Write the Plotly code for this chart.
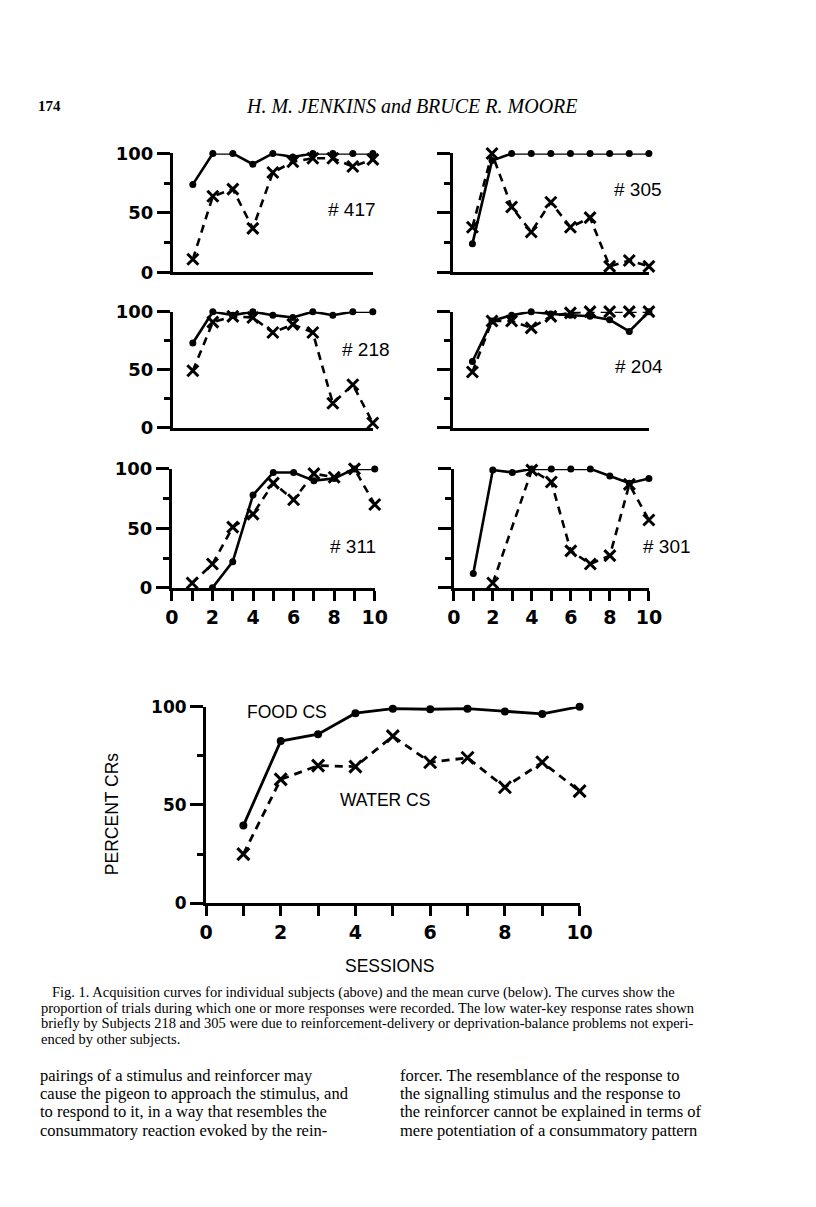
import plotly.graph_objects as go

W, H = 816, 1207

sessions = list(range(1, 11))

food_417 = [74, 100, 100, 91, 100, 97, 100, 100, 100, 100]
water_417 = [11, 64, 70, 37, 84, 93, 96, 96, 89, 95]
food_305 = [24, 94, 100, 100, 100, 100, 100, 100, 100, 100]
water_305 = [38, 100, 55, 34, 59, 38, 46, 5, 10, 5]
food_218 = [73, 100, 97, 100, 97, 95, 100, 97, 100, 100]
water_218 = [49, 91, 96, 95, 82, 89, 82, 21, 37, 4]
food_204 = [57, 92, 97, 100, 98, 97, 96, 93, 83, 100]
water_204 = [48, 92, 92, 86, 96, 99, 100, 100, 100, 100]
food_311 = [None, 0, 22, 78, 97, 97, 90, 92, 100, 100]
water_311 = [4, 20, 51, 62, 88, 74, 96, 93, 100, 70]
food_301 = [12, 99, 97, 100, 100, 100, 100, 94, 88, 92]
water_301 = [None, 4, None, 99, 89, 31, 20, 27, 87, 57]
food_mean = [39.5, 82.5, 86, 96.7, 99, 98.7, 99, 97.5, 96.3, 100]
water_mean = [25, 63, 70, 69.5, 85, 71.7, 74, 59, 71.7, 57]

x_tick_vals = list(range(0, 11))
x_tick_text = ["0", "", "2", "", "4", "", "6", "", "8", "", "10"]
y_tick_vals = [0, 50, 100]
y_tick_text = ["0", "50", "100"]

subjects = ["# 417", "# 305", "# 218", "# 204", "# 311", "# 301"]

TICKF = "DejaVu Sans, sans-serif"
SANS = "Liberation Sans, Arial, sans-serif"
SERIF = "Liberation Serif, Times New Roman, serif"


def px_x(p):
    return p / W


def px_y(p):
    return 1 - p / H


# panel layout: (food, water, x0, x1, ytop, ybottom, y labels, x labels)
panels = [
    (food_417, water_417, 170, 375, 145, 266, True, False),
    (food_305, water_305, 457, 658, 145, 266, False, False),
    (food_218, water_218, 170, 375, 306, 424, True, False),
    (food_204, water_204, 457, 658, 306, 424, False, False),
    (food_311, water_311, 169, 377, 466, 587, True, True),
    (food_301, water_301, 458, 658, 466, 587, False, True),
    (food_mean, water_mean, 204, 587, 708, 908, True, True),
]

fig = go.Figure()
layout = {}

for i, (fd, wt, x0, x1, yt, yb, ylab, xlab) in enumerate(panels):
    k = "" if i == 0 else str(i + 1)
    big = i == 6
    msize = 8 if big else 7
    lw = 2.8 if big else 2.6
    fig.add_trace(go.Scatter(
        x=sessions, y=fd, mode="lines+markers", connectgaps=True,
        line=dict(color="black", width=lw),
        marker=dict(symbol="circle", size=msize, color="black"),
        xaxis="x" + k, yaxis="y" + k, cliponaxis=False, showlegend=False))
    fig.add_trace(go.Scatter(
        x=sessions, y=wt, mode="lines+markers", connectgaps=True,
        line=dict(color="black", width=lw, dash="8px,6px"),
        marker=dict(symbol="x-thin", size=12 if big else 11,
                    line=dict(color="black", width=3)),
        xaxis="x" + k, yaxis="y" + k, cliponaxis=False, showlegend=False))
    xa = dict(domain=[px_x(x0), px_x(x1)], range=[0, 10], anchor="y" + k,
              showline=True, linecolor="black", linewidth=3,
              showgrid=False, zeroline=False, fixedrange=True)
    if xlab:
        xa.update(tickmode="array", tickvals=x_tick_vals, ticktext=x_tick_text,
                  ticks="outside", ticklen=10, tickwidth=3, tickcolor="black",
                  tickfont=dict(family=TICKF, size=19, color="black",
                                weight="bold"))
    else:
        xa.update(ticks="", showticklabels=False)
    ya = dict(domain=[px_y(yb), px_y(yt)], range=[0, 100], anchor="x" + k,
              showline=True, linecolor="black", linewidth=3,
              showgrid=False, zeroline=False, fixedrange=True,
              tickmode="array", tickvals=y_tick_vals, ticktext=y_tick_text,
              ticks="outside", ticklen=13, tickwidth=3, tickcolor="black",
              minor=dict(tickmode="array", tickvals=[25, 75], ticks="outside",
                         ticklen=6, tickwidth=3, tickcolor="black"),
              showticklabels=ylab,
              tickfont=dict(family=TICKF, size=17 if big else 18,
                            color="black", weight="bold"))
    layout["xaxis" + k] = xa
    layout["yaxis" + k] = ya

annotations = []


def ann(text, x, y, size, family=SANS, xanchor="center", yanchor="middle",
        textangle=0, weight="normal"):
    annotations.append(dict(
        text=text, x=px_x(x), y=px_y(y), xref="paper", yref="paper",
        showarrow=False, xanchor=xanchor, yanchor=yanchor, textangle=textangle,
        borderpad=0, font=dict(family=family, size=size, color="black",
                               weight=weight)))


label_pos = [(354, 202), (647, 182), (368, 345), (648, 362), (355, 545), (677, 545)]
for s, (lx, ly) in zip(subjects, label_pos):
    ann(s, lx, ly, 19)

ann("FOOD CS", 287, 713, 17.5)
ann("WATER CS", 388, 803, 17.5)
ann("PERCENT CRs", 107, 817, 17.5, textangle=-90)
ann("SESSIONS", 392, 972, 17.5)

# page header
ann("174", 44, 97, 15, family=SERIF, weight="bold")
ann("<i>H. M. JENKINS and BRUCE R. MOORE</i>", 415, 97, 20, family=SERIF)

caption = [
    "Fig. 1. Acquisition curves for individual subjects (above) and the mean curve (below). The curves show the",
    "proportion of trials during which one or more responses were recorded. The low water-key response rates shown",
    "briefly by Subjects 218 and 305 were due to reinforcement-delivery or deprivation-balance problems not experi-",
    "enced by other subjects.",
]
cap_x = [45, 34, 34, 34]
for j, line in enumerate(caption):
    ann(line, cap_x[j], 999 + 15.7 * j, 14.5, family=SERIF, xanchor="left")

body_left = [
    "pairings of a stimulus and reinforcer may",
    "cause the pigeon to approach the stimulus, and",
    "to respond to it, in a way that resembles the",
    "consummatory reaction evoked by the rein-",
]
body_right = [
    "forcer. The resemblance of the response to",
    "the signalling stimulus and the response to",
    "the reinforcer cannot be explained in terms of",
    "mere potentiation of a consummatory pattern",
]
for j, line in enumerate(body_left):
    ann(line, 33, 1083 + 18.7 * j, 16.5, family=SERIF, xanchor="left")
for j, line in enumerate(body_right):
    ann(line, 402, 1083 + 18.7 * j, 16.5, family=SERIF, xanchor="left")

fig.update_layout(
    width=W, height=H, margin=dict(l=0, r=0, t=0, b=0),
    paper_bgcolor="white", plot_bgcolor="white",
    annotations=annotations, showlegend=False, **layout)

fig.write_html("out.html", config={"displayModeBar": False},
               post_script="document.body.style.margin='0';"
                           "document.body.style.overflow='hidden';")
